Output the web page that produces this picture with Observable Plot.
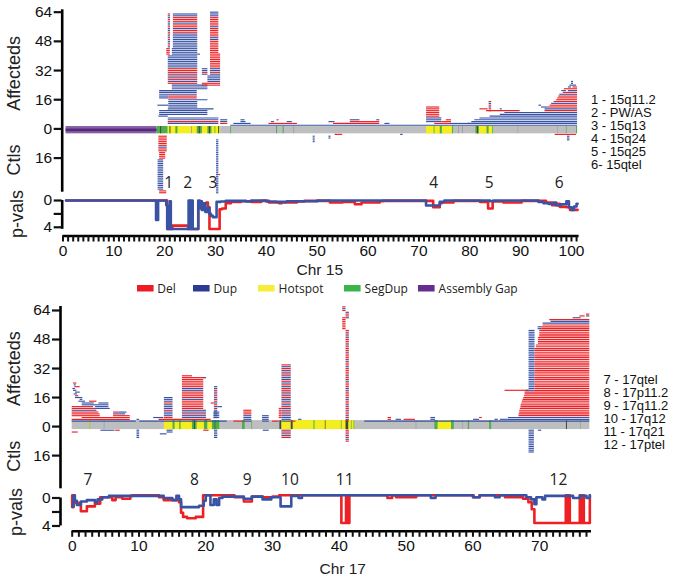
<!DOCTYPE html>
<html><head><meta charset="utf-8">
<script src="https://cdn.jsdelivr.net/npm/d3@7"></script>
<script src="https://cdn.jsdelivr.net/npm/@observablehq/plot@0.6"></script>
<style>
html,body{margin:0;background:#fff;color:#000}
#page{position:relative;width:676px;height:582px;overflow:hidden;font-family:"Liberation Sans",Arial,sans-serif}
#page>*{position:absolute}
#page>svg{font-family:"Liberation Sans",Arial,sans-serif!important}
.regions{font-size:13px;line-height:13.1px;white-space:pre;color:#111}
.lg-swatch{margin-right:0!important;font-size:12px!important;font-family:"Open Sans",sans-serif;color:#222;white-space:nowrap;position:absolute;top:0}
.lg-swatch>svg{margin-right:4px!important}
</style></head><body><div id="page"></div>
<script>
const RED = "#ed2024", BLUE = "#3953a4";
const legendNames = ["Del","Dup","Hotspot","SegDup","Assembly Gap"];
const legendColors = ["#ed1c24","#2e3a92","#f7ec3a","#39b54a","#662d91"];
const bandColors = {gray:"#bcbec0",hot:"#f4ee1e",seg:"#4fae4a",dark:"#3d4a3a",gap:"#8560a3",faint:"#9a9c9e",lime:"#a9cf38"};

// [start Mb, end Mb, lowest row, type per row going up: d = deletion, u = duplication]
const chr15Cases = [
 [20.7,21.15,45,"uduuduudduuduudduud"],
 [21.7,26.5,45,"uuuuuuuuddudduddduu"],
 [20.4,21.1,41,"dddd"],[21.5,26.5,41,"uuuu"],[26.5,27.05,41,"u"],
 [20.7,26.5,25,"dudududdduuuuuuu"],
 [21.5,28.5,22,"uuu"],
 [19,20.8,17,"uu"],[20.8,26.4,17,"dd"],[19,26.4,19,"uuu"],
 [20.8,28.5,16,"u"],[20.8,26.5,12,"uuuu"],[18.66,20.8,13,"u"],[20.7,29.7,11,"u"],
 [19,28.5,8,"uuu"],[18.85,20.7,7,"u"],[20.7,30.65,3,"uduu"],
 [29,30.65,42,"ddddddduuddddduddddduuu"],
 [29,31,30,"uduudddddddd"],[28.5,31,26,"uuuu"],[27.4,31,24,"dd"],
 [27.4,28.5,30,"uduu"],
 [31,32.4,3,"duu"],[33.6,37,3,"u"],[35,36,4,"u"],[35,35.8,5,"u"],
 [40.5,46.1,3,"d"],[41,41.6,4,"u"],[42.1,42.5,5,"d"],[44.1,45.1,4,"u"],
 [52.3,53.5,4,"u"],[53.2,62.3,3,"d"],[56.5,62.3,4,"d"],[56.5,58.4,5,"u"],[61.7,62.3,5,"u"],[63.3,64.3,3,"u"],
 [71.5,74.5,4,"uuu"],[71.5,74.1,7,"dddddd"],[73.1,76.4,3,"d"],[74.5,76.4,4,"d"],[75.4,76.4,5,"d"],
 [33,76.1,2,"u"],[76.1,101.2,2,"u"],[76.1,80,3,"u"],
 [79.7,101.2,3,"u"],[80.4,101.2,4,"u"],[81,101.2,5,"u"],[82,101.2,6,"u"],[84,101.2,7,"u"],[86,101.2,8,"u"],[86.9,101.2,9,"u"],
 [83.3,89.9,10,"d"],[94.8,101.2,10,"d"],[82,83.6,11,"d"],[86,86.4,11,"u"],[94.8,101.2,11,"u"],
 [95.4,101.2,12,"d"],[94.1,95.4,12,"u"],[95.8,101.2,13,"d"],[93.6,94.1,13,"u"],
 [96.1,101.2,14,"u"],[96.6,101.2,15,"d"],[97.1,101.2,16,"d"],[97.3,101.2,17,"d"],[97.5,101.2,18,"d"],
 [97.7,101.2,19,"u"],[98.4,101.2,20,"d"],[98.1,99,21,"u"],[99.4,101.2,21,"u"],[98.6,101.2,22,"d"],
 [99.4,100,23,"u"],[100.3,101.2,23,"d"],[99.7,101,24,"u"],[100,100.4,25,"uu"],
 [83.8,84.3,10,"ddudud"]
];
const chr15Controls = [
 [19,20.4,-35,"dd"],[18.7,19.8,-33,"uuuuuuuuuuuuuuuuu"],[19,20.2,-16,"dddd"],[18.85,20.5,-12,"ddudddddd"],
 [30.2,30.65,-35,"uuuuuuuuuuuuuuuuuuuuuuuuuuuuuu"],[30.65,31,-25,"d"],
 [49.2,49.6,-7,"uuuu"],[52.3,52.7,-5,"uu"],[53.5,55,-3,"d"],[66.4,66.9,-3,"u"],[96.8,101,-3,"d"],[99.2,99.7,-6,"uuu"]
];
const chr15Band = [
 [0.6,18.5,"gap"],[18.5,20.7,"seg"],[20.7,31,"hot"],[31,101.2,"gray"],
 [19.2,19.4,"dark"],[21,21.2,"seg"],[21.1,21.2,"dark"],[22.2,22.6,"seg"],[25.3,25.45,"faint"],
 [26.4,27.4,"seg"],[26.8,27,"dark"],[28.5,29.3,"seg"],[28.8,29,"dark"],[29.9,30.05,"seg"],[30.6,30.8,"dark"],
 [33,33.15,"seg"],[42,42.2,"seg"],[43.3,43.5,"seg"],[45.4,45.55,"faint"],
 [71.5,76.8,"hot"],[73,73.15,"seg"],[74.2,74.6,"seg"],[76.6,76.8,"seg"],[77.8,77.95,"faint"],[78.6,78.75,"faint"],
 [81.2,81.9,"seg"],[81.5,81.7,"dark"],[81.9,84.6,"hot"],[83.4,83.8,"seg"],[84.5,84.65,"seg"],
 [89.5,89.6,"faint"],[97.3,97.4,"faint"],[99,99.12,"seg"],[101,101.2,"seg"]
];
const chr15Del = [[0.6,0],[20.5,4.25],[21.5,3.75],[24.6,4.25],[26.6,0.5],[27.7,0.4],[28.2,0.3],[28.5,1],[28.8,4.25],[30.8,1.3],[31.3,1.2],[32,0.4],[33,0.2],[35,0.1],[37,0.2],[39,0.05],
 [40.5,0.3],[42.5,0.4],[43,0.3],[46,0.15],[47.5,0.05],[52.5,0.3],[55,0.2],[57.4,0.55],[58.7,0.3],[62.3,0.1],[63,0.05],
 [72.8,1],[74.1,0.4],[74.5,0.3],[76.8,0.05],[82,0.2],[83.6,1.2],[84.5,0.15],[86.6,0.3],[90.2,0.05],[95,0.3],[96.2,0.7],[97.3,0.5],[97.7,0.95],[99,1],[99.7,1.4],[101.2,1.4]];
const chr15Dup = [[0.6,0],[18.3,2.9],[18.7,0],[20.3,0.7],[20.5,4.25],[21,0.1],[21.2,4.25],[24.7,0],[24.85,4.25],[25,0],[25.15,4.25],[25.3,0],[25.5,4.25],[26.6,0],[26.9,1.2],[27.1,0.1],[27.3,1.4],[27.6,0.4],[28,1.7],[28.5,1.1],[28.8,2],[29.1,2.3],[29.5,2.5],[30.2,0.2],[31,0.15],[32,0.05],
 [35,0.05],[36,0.15],[37,0],[40,0.15],[42,0.2],[44,0.1],[50,0],[71.4,0.75],[74.1,0.2],[75,0],[84,0.1],[84.6,0],[93.5,0.2],[94.5,0.4],[95.5,0.5],[96.5,0.3],[97,0.7],[98,0.55],[99,0.1],[99.5,1],[100,1.4],[100.5,0.9],[101,0.5],[101.2,0.5]];
const chr15Numbers = ["1","2","3","4","5","6"];
const chr15NumberAt = [20.8,24.5,29.5,72.9,83.8,97.6];

const chr17Cases = [
 [0,8.7,4,"d"],[1.5,8.7,5,"d"],[0,4.2,6,"d"],[6.2,8.7,6,"d"],[0,4.2,7,"d"],[6.2,8,7,"u"],[0,4,8,"d"],[6.2,7,8,"d"],[7,8.2,8,"u"],
 [0,3.7,9,"u"],[0,3.5,10,"d"],[3.5,5.7,10,"u"],[0,3.2,11,"d"],[3.5,5.5,11,"u"],[1.5,5.5,12,"u"],[1.5,3.3,13,"u"],[4,5.5,13,"u"],
 [1,2,14,"u"],[2.6,3.7,14,"d"],[1.2,1.6,15,"u"],[0.5,1.6,16,"u"],[0.5,1,17,"d"],[0.3,0.8,18,"u"],[0.5,1.2,19,"u"],[0.2,0.7,20,"u"],[0.1,0.5,21,"u"],[0.4,1.2,22,"d"],[0.3,0.6,23,"u"],[0.2,0.7,24,"d"],
 [0,9.6,3,"u"],[9.7,10.1,4,"u"],[10.1,13,3,"u"],[12.2,13.7,5,"u"],
 [13,20.8,4,"d"],[13,23.2,3,"u"],[13.8,15.1,5,"duuuduuuduuu"],
 [16.5,20.1,5,"uuduu"],[16.5,19.7,10,"dddddudddduuddddd"],[16.5,20.1,27,"d"],[19.7,20.1,27,"u"],[16.5,18,28,"d"],
 [21.3,21.8,5,"uuuuududududududuu"],[20.8,21.3,13,"d"],[21.8,22.5,11,"u"],[21.2,22.1,5,"uuuu"],
 [24.2,25.7,3,"d"],[25.7,26.9,3,"uuuuddd"],[28.5,29.5,3,"uuuu"],
 [30,31,3,"d"],[31,31.4,5,"dddddd"],[31.4,32.8,3,"uuuududududuudududdududuudududud"],[32.8,33.5,3,"d"],[33.9,34.4,4,"u"],
 [41,41.5,3,"dududdudduddudddududddudduddddudduddddudddudddududd"],
 [40.5,41,54,"ddddddd"],[41,41.5,60,"uddu"],[40.5,41,64,"dud"],
 [43.8,77.5,3,"u"],[47.3,47.8,4,"dd"],[48.5,49.3,4,"u"],[49.7,51.4,4,"d"],[53.7,54.4,4,"uu"],[60.1,61,4,"u"],[61,61.4,5,"d"],[63.3,63.8,4,"u"],[64.1,65.3,4,"u"],[65.3,77.5,4,"uu"],
 [66.9,77.5,6,"dd"],[67,77.5,8,"dd"],[67.1,77.5,10,"d"],[67.2,77.5,11,"dd"],[67.3,77.5,13,"d"],[67.4,77.5,14,"d"],[67.5,77.5,15,"d"],[67.6,77.5,16,"d"],[67.7,77.5,17,"d"],[67.8,77.5,18,"dd"],
 [64.8,68.4,20,"d"],[68,69.2,20,"u"],[69.2,77.5,20,"d"],
 [68.4,69.3,21,"uuuuuuuuuuuuuuuuuuuuuuuuuuuuuuuuu"],
 [69.3,77.5,21,"ddddddddddddddddddddddd"],[69.5,77.5,44,"dd"],[69.8,77.5,46,"dddd"],[70,77.5,50,"dddd"],[70.3,77.5,54,"dd"],[70.5,77.5,56,"d"],
 [69.76,70.3,54,"uu"],[70.5,77.5,57,"u"],[71.7,77.5,58,"u"],[71.5,77.5,59,"d"],[75,76.2,60,"u"],[76,76.8,61,"d"],[77,77.5,61,"ud"]
];
const chr17Controls = [
 [0,0.9,-3,"d"],[4.3,6.4,-2,"u"],[6.5,7.2,-2,"d"],[9.7,10.1,-6,"uuuuu"],[13.2,14.2,-4,"u"],[14.2,15.1,-3,"uu"],[19.7,20.5,-2,"d"],[21.3,21.8,-6,"uuuuu"],[28.6,29.5,-2,"u"],
 [31.4,32.8,-6,"dudud"],[41,41.5,-8,"dududdd"],[68.4,69.2,-14,"uuuuuuuuuuuuu"],[69.8,70.3,-2,"u"]
];
const chr17Band = [
 [0,77.5,"gray"],[2.6,2.8,"lime"],[4.8,4.9,"faint"],
 [13.8,22.1,"hot"],[15.1,15.4,"seg"],[16.1,16.3,"seg"],[18,18.7,"seg"],[18.3,18.45,"dark"],[19.8,20.3,"seg"],[21,22.1,"seg"],[21.4,21.5,"dark"],
 [25.5,25.9,"seg"],[26.9,27,"seg"],[31.1,31.4,"dark"],[31.4,32.8,"hot"],[32.8,33.1,"dark"],[33.1,42.3,"hot"],[36.2,36.35,"seg"],[37.9,38,"dark"],[40.3,40.4,"seg"],[41,41.4,"dark"],[41.8,41.9,"seg"],[42.2,42.3,"seg"],
 [51.5,51.6,"faint"],[54.3,54.8,"seg"],[54.8,56.8,"hot"],[56.8,57.2,"seg"],[58.5,58.6,"faint"],[59.3,59.5,"seg"],[62.5,62.8,"seg"],[74,74.15,"dark"],[76.1,76.2,"faint"]
];
const chr17Del = [[0,-0.4],[0,1.3],[0.2,0.6],[0.6,0.7],[1.3,1.9],[2.2,1.2],[3.4,0.8],[4.2,-0.1],[6,0.3],[6.5,-0.1],[7.5,0.1],[8.7,-0.3],[9,-0.4],[13,-0.1],[13.7,0.3],[15,0.3],[16,0.6],[16.3,2.1],[16.6,2.7],[17.2,2.9],[18.5,2.7],[19.6,-0.4],
 [24.3,-0.1],[25.7,0.5],[26.9,-0.2],[28.5,-0.1],[30,-0.2],[31,-0.4],[40.3,3.57],[41,-0.4],[41.2,3.57],[41.5,-0.4],
 [47.2,0],[47.9,-0.4],[48.5,-0.1],[51.5,-0.4],[60.1,-0.1],[61,-0.4],[64.8,-0.1],[67.5,0.1],[68.3,0.6],[68.8,1.6],[69.2,3.57],[73.9,-0.4],[74.1,3.57],[74.3,-0.4],[74.5,3.57],[76,-0.4],[76.2,3.57],[76.5,-0.4],[76.6,3.57],[77.5,-0.4]];
const chr17Dup = [[0,1.2],[0.2,-0.4],[0.4,0.4],[0.7,1],[1.3,0.5],[2.2,0.3],[3.4,0.6],[3.8,0.2],[4.5,-0.1],[5.5,-0.3],[13.7,0],[15,0.3],[15.3,0.3],[15.6,-0.3],[16,0.2],[16.3,1.3],[19,1.1],[19.7,0.4],[20,-0.4],[20.7,1],[21.2,0.2],[21.6,1],[22,0],[22.5,-0.2],[25.7,0.1],[26.9,-0.2],[28.5,0.2],[29.8,-0.1],[31.2,1.2],[32.8,-0.3],[33.9,0],[34.4,-0.4],
 [53.7,0],[54.4,-0.4],[60,-0.1],[61,-0.4],[63.3,-0.1],[64,-0.4],[68,-0.1],[68.7,0.2],[69.2,0.9],[69.5,-0.1],[70.4,0.2],[70.8,-0.3],[75,0],[76,-0.3],[77,0],[77.5,-0.4]];
const chr17Numbers = ["7","8","9","10","11","12"];
const chr17NumberAt = [2.35,18.3,26.2,32.6,40.8,72.8];

const chr15Regions = ["1 - 15q11.2","2 - PW/AS","3 - 15q13","4 - 15q24","5 - 15q25","6- 15qtel"];
const chr17Regions = ["7 - 17qtel","8 - 17p11.2","9 - 17q11.2","10 - 17q12","11 - 17q21","12 - 17ptel"];

const page = document.getElementById("page");
const place = (el, top, left = 0) => { el.style.top = top + "px"; el.style.left = left + "px"; page.appendChild(el); };
const expand = blocks => blocks.flatMap(([x1, x2, row, pattern]) => Array.from(pattern, (t, i) => ({x1, x2, row: row + i, type: t})));
const pairs = (list) => list.map(([pos, val]) => ({pos, val}));

function countsPanel(o) {
  const rows = expand(o.cases).concat(expand(o.controls));
  const band = o.band.map(([x1, x2, kind]) => ({x1, x2, kind}));
  const gap = band.filter(d => d.kind === "gap");
  return Plot.plot({
    width: 676, height: o.height, marginLeft: o.left, marginRight: o.right, marginTop: o.top, marginBottom: o.bottom,
    x: {domain: o.xDomain, axis: null}, y: {domain: o.yDomain, axis: null}, color: {type: "identity"},
    style: {overflow: "visible", background: "transparent"},
    marks: [
      Plot.rect(band, {x1: "x1", x2: "x2", y1: o.bandY[0], y2: o.bandY[1], fill: d => bandColors[d.kind]}),
      Plot.rect(gap, {x1: "x1", x2: "x2", y1: o.bandY[1] + 1.2, y2: o.bandY[0] - 1.4, fill: "#57277f"}),
      Plot.ruleY(rows, {y: "row", x1: "x1", x2: "x2", stroke: d => d.type === "d" ? RED : BLUE, strokeWidth: 1.15}),
      Plot.ruleX([o.xDomain[0]], {y1: o.yDomain[0], y2: o.yDomain[1], stroke: "#000", strokeWidth: 2.6}),
      Plot.axisY({ticks: [64, 48, 32, 16, 0, -16], tickFormat: Math.abs, tickSize: 8, strokeWidth: 2.2, tickPadding: 2, fontSize: 15.5, label: null, color: "#111"}),
      Plot.text(["Affecteds"], {x: o.xDomain[0], dx: o.labelDx, y: o.affY, rotate: -90, fontSize: 18, fill: "#222"}),
      Plot.text(["Ctls"], {x: o.xDomain[0], dx: o.labelDx, y: o.ctlY, rotate: -90, fontSize: 18, fill: "#222"}),
      Plot.text(o.numbers, {x: (d, i) => o.numberAt[i], y: o.numberY, fontSize: 15.5, fontFamily: '"Open Sans",sans-serif', fill: "#222"})
    ]
  });
}

function pvalPanel(o) {
  const del = pairs(o.del), dup = pairs(o.dup);
  const ticks = d3.range(0, o.xEnd + 1);
  return Plot.plot({
    width: 676, height: o.height, marginLeft: o.left, marginRight: o.right, marginTop: o.top, marginBottom: o.bottom,
    x: {domain: o.xDomain, axis: null}, y: {domain: o.yDomain, reverse: true, axis: null},
    style: {overflow: "visible", background: "transparent"},
    marks: [
      Plot.line(del, {x: "pos", y: "val", stroke: RED, strokeWidth: 2.6, curve: "step-after"}),
      Plot.line(dup, {x: "pos", y: "val", stroke: BLUE, strokeWidth: 2.6, curve: "step-after"}),
      Plot.ruleX([o.xDomain[0]], {y1: 0, y2: o.axisEnd, stroke: "#000", strokeWidth: 2.6}),
      Plot.axisY({ticks: [0, 2, 4], tickFormat: d => d === 2 ? "" : d, tickSize: 8, strokeWidth: 2.2, tickPadding: 2, fontSize: 15.5, label: null, color: "#111"}),
      Plot.ruleY([o.yDomain[1]], {x1: 0, x2: o.xDomain[1], stroke: "#000", strokeWidth: 2.6}),
      Plot.axisX({ticks, tickFormat: d => d % 10 ? "" : d, tickSize: 6, strokeWidth: 2, tickPadding: 3, fontSize: 15.5, label: null, color: "#111"}),
      Plot.text(["p-vals"], {x: o.xDomain[0], dx: o.labelDx, y: o.labelY, rotate: -90, fontSize: 18, fill: "#222"}),
      Plot.text([o.title], {x: o.titleAt, y: o.yDomain[1], dy: o.titleDy, fontSize: 15.5, fill: "#222"})
    ]
  });
}

place(countsPanel({
  cases: chr15Cases, controls: chr15Controls, band: chr15Band, numbers: chr15Numbers, numberAt: chr15NumberAt,
  height: 195, left: 61.7, right: 97.4, top: 9.3, bottom: 3.3, xDomain: [-0.16, 101.5], yDomain: [-34.7, 65.3],
  bandY: [1.3, -2.7], affY: 30.4, ctlY: -17, labelDx: -47.5, numberY: -29.4
}), 0);

place(pvalPanel({
  del: chr15Del, dup: chr15Dup, title: "Chr 15", titleAt: 50.5, titleDy: 34, xEnd: 101,
  height: 90, left: 61.7, right: 97.4, top: 8, bottom: 44.5, xDomain: [-0.16, 101.5], yDomain: [-0.3, 5.3],
  axisEnd: 4.3, labelDx: -45, labelY: 2
}), 190);

const legendEl = Plot.legend({color: {domain: legendNames, range: legendColors}, legend: "swatches", swatchWidth: 16.6, swatchHeight: 6.5, className: "lg"});
place(legendEl, 279.5, 0);
legendEl.style.margin = "0";
const legendLeft = [136.7, 193, 258, 344, 418];
legendEl.querySelectorAll(".lg-swatch").forEach((s, i) => { s.style.left = legendLeft[i] + "px"; });

place(countsPanel({
  cases: chr17Cases, controls: chr17Controls, band: chr17Band, numbers: chr17Numbers, numberAt: chr17NumberAt,
  height: 190, left: 60, right: 85, top: 6, bottom: 1.7, xDomain: [-1.75, 77.75], yDomain: [-34.3, 66.2],
  bandY: [3.3, -1.65], affY: 32, ctlY: -16.3, labelDx: -46, numberY: -29.2
}), 300);

place(pvalPanel({
  del: chr17Del, dup: chr17Dup, title: "Chr 17", titleAt: 40.5, titleDy: 38, xEnd: 77,
  height: 90, left: 60, right: 85, top: 7, bottom: 46.2, xDomain: [-1.75, 77.75], yDomain: [-0.5, 4.76],
  axisEnd: 4, labelDx: -44, labelY: 2
}), 487.2);

function regionList(lines, top, left) {
  const el = document.createElement("div");
  el.className = "regions";
  el.textContent = lines.join("\n");
  place(el, top, left);
}
regionList(chr15Regions, 92.5, 591);
regionList(chr17Regions, 372.5, 603.5);
</script></body></html>
